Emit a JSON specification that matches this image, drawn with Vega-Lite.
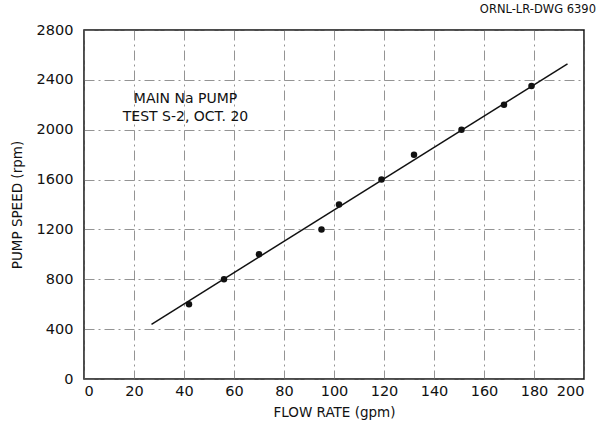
{
  "$schema": "https://vega.github.io/schema/vega-lite/v6.json",
  "width": 500,
  "height": 349,
  "autosize": {"type": "none"},
  "padding": {"left": 84, "top": 30, "right": 18, "bottom": 50},
  "background": "white",
  "title": {"text": "ORNL-LR-DWG 6390", "anchor": "end", "frame": "group", "dx": 12, "offset": 7, "font": "DejaVu Sans", "fontSize": 11.5, "fontWeight": "normal", "color": "#111"},
  "config": {
    "view": {"stroke": "#111", "strokeWidth": 1.5},
    "axis": {
      "labelFont": "DejaVu Sans", "labelFontSize": 14.5, "labelColor": "#111",
      "titleFont": "DejaVu Sans", "titleFontSize": 13.5, "titleFontWeight": "normal", "titleColor": "#111",
      "ticks": false, "domain": false,
      "grid": true, "gridColor": "#666", "gridWidth": 1, "gridDash": [10, 4, 2, 4], "gridOpacity": 0.7
    }
  },
  "datasets": {
    "points": [
      {"flow": 42, "speed": 600},
      {"flow": 56, "speed": 800},
      {"flow": 70, "speed": 1000},
      {"flow": 95, "speed": 1200},
      {"flow": 102, "speed": 1400},
      {"flow": 119, "speed": 1600},
      {"flow": 132, "speed": 1800},
      {"flow": 151, "speed": 2000},
      {"flow": 168, "speed": 2200},
      {"flow": 179, "speed": 2350}
    ],
    "fit": [
      {"flow": 27, "speed": 439},
      {"flow": 193.4, "speed": 2529}
    ],
    "notes": [
      {"flow": 40.6, "speed": 2249, "label": "MAIN Na PUMP"},
      {"flow": 40.6, "speed": 2104, "label": "TEST S-2, OCT. 20"}
    ]
  },
  "layer": [
    {
      "data": {"name": "fit"},
      "mark": {"type": "line", "color": "#111", "strokeWidth": 1.5},
      "encoding": {
        "x": {"field": "flow", "type": "quantitative", "scale": {"domain": [0, 200], "nice": false},
              "axis": {"values": [0,20,40,60,80,100,120,140,160,180,200], "format": "d", "title": "FLOW RATE (gpm)", "labelPadding": 5, "titlePadding": 8}},
        "y": {"field": "speed", "type": "quantitative", "scale": {"domain": [0, 2800], "nice": false},
              "axis": {"values": [0,400,800,1200,1600,2000,2400,2800], "format": "d", "title": "PUMP SPEED (rpm)", "labelPadding": 11, "titlePadding": 12}}
      }
    },
    {
      "data": {"name": "points"},
      "mark": {"type": "circle", "color": "#111", "opacity": 1, "size": 42},
      "encoding": {
        "x": {"field": "flow", "type": "quantitative"},
        "y": {"field": "speed", "type": "quantitative"}
      }
    },
    {
      "data": {"name": "notes"},
      "mark": {"type": "text", "font": "DejaVu Sans", "fontSize": 14, "color": "#111", "align": "center", "baseline": "middle"},
      "encoding": {
        "x": {"field": "flow", "type": "quantitative"},
        "y": {"field": "speed", "type": "quantitative"},
        "text": {"field": "label"}
      }
    }
  ]
}
